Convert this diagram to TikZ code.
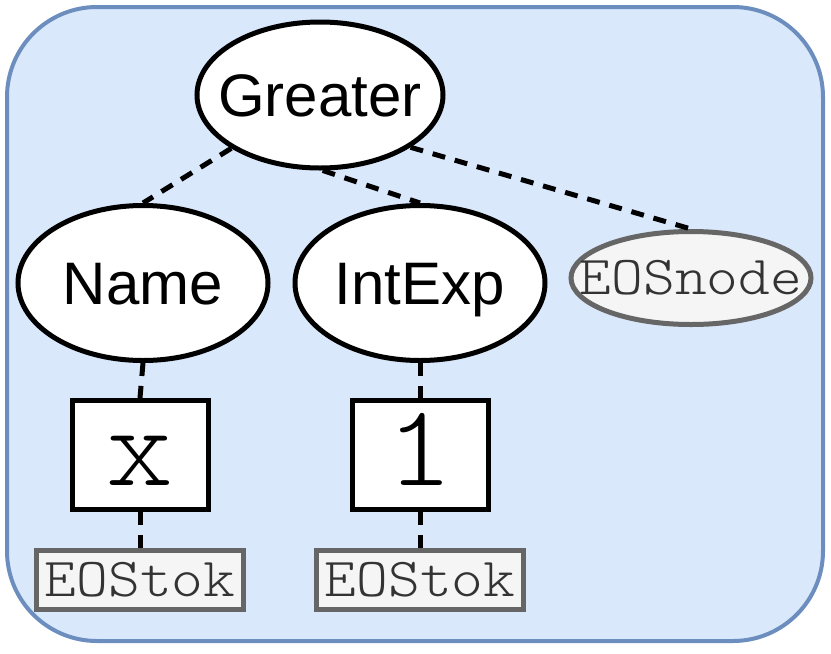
\documentclass[tikz,border=0pt]{standalone}
\usepackage{fontspec}
\setmainfont{Liberation Sans}
\setmonofont{Latin Modern Mono Light}[FakeStretch=1.1]
\usetikzlibrary{shapes.geometric}
\definecolor{frameblue}{HTML}{6C8EBF}
\definecolor{fillblue}{HTML}{DAE8FC}
\definecolor{eosgray}{HTML}{666666}
\definecolor{eosfill}{HTML}{F5F5F5}
\definecolor{eostext}{HTML}{333333}
\newcommand{\zw}[1]{\makebox[0pt]{#1}}
\tikzset{
  ell/.style={ellipse, draw, line width=5pt, fill=white, inner sep=0pt,
    font=\fontsize{60}{72}\selectfont, text height=43pt, text depth=0pt},
  eosell/.style={ellipse, draw=eosgray, line width=5pt, fill=eosfill, inner sep=0pt,
    text=eostext, font=\ttfamily\fontsize{55}{60}\selectfont, text height=33pt, text depth=0pt},
  tokbox/.style={rectangle, draw, line width=5pt, fill=white, inner sep=0pt,
    minimum width=136pt, minimum height=109pt, font=\ttfamily\fontsize{116}{116}\selectfont,
    text height=60pt, text depth=0pt},
  eosbox/.style={rectangle, draw=eosgray, line width=5pt, fill=eosfill, inner sep=0pt,
    minimum width=207pt, minimum height=59pt, text=eostext,
    font=\ttfamily\fontsize{55}{60}\selectfont, text height=33pt, text depth=0pt},
  link/.style={line width=5pt, dash pattern=on 13pt off 10pt}
}
\begin{document}
\begin{tikzpicture}[x=1pt,y=-1pt]
\useasboundingbox (0,0) rectangle (831,654);
\draw[line width=4pt, draw=frameblue, fill=fillblue, rounded corners=90pt] (7,7) rectangle (823,641);
\node[ell, minimum width=246pt, minimum height=146pt] (g) at (320,95) {\zw{Greater}};
\node[ell, minimum width=250pt, minimum height=155pt] (n) at (143,283) {\zw{Name}};
\node[ell, minimum width=250pt, minimum height=155pt] (i) at (420,283) {\zw{IntExp}};
\node[eosell, minimum width=240pt, minimum height=93pt] (e) at (691,278) {\zw{EOSnode}};
\node[tokbox] (x) at (140,455) {x};
\node[tokbox] (one) at (420,455) {1};
\node[eosbox] (t1) at (140,580) {EOStok};
\node[eosbox] (t2) at (420,580) {EOStok};
\draw[link] (g.211) -- (n.north);
\draw[link] (g.-88) -- (i.north);
\draw[link] (g.-30) -- (e.north);
\draw[link] (n.south) -- (x.north);
\draw[link] (i.south) -- (one.north);
\draw[link] (x.south) -- (t1.north);
\draw[link] (one.south) -- (t2.north);
\end{tikzpicture}
\end{document}
